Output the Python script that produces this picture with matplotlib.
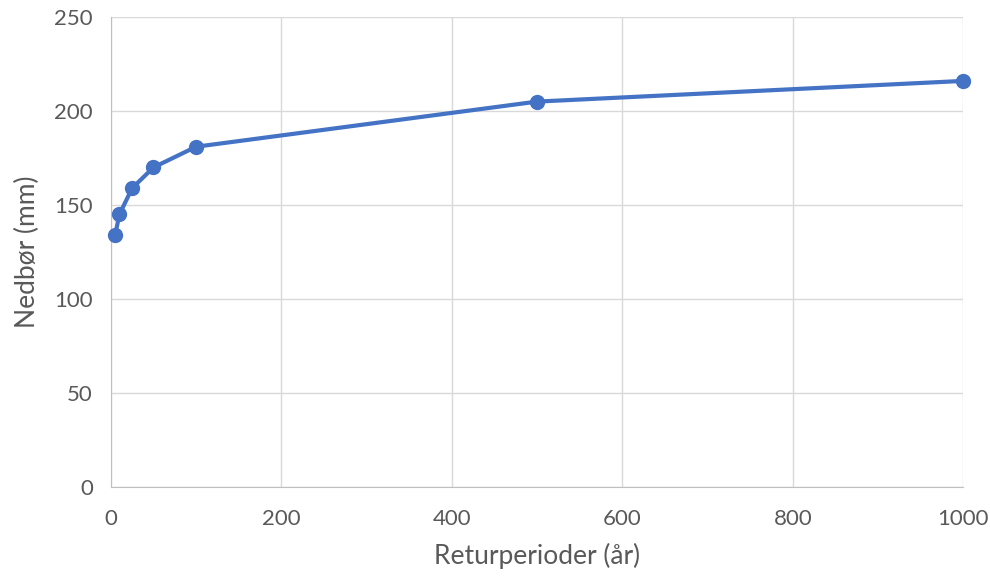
import matplotlib
matplotlib.use('Agg')
import matplotlib.pyplot as plt

returperiode = [5, 10, 25, 50, 100, 500, 1000]
nedbor = [134, 145, 159, 170, 181, 205, 216]
x_ticks = [0, 200, 400, 600, 800, 1000]
y_ticks = [0, 50, 100, 150, 200, 250]

plt.rcParams['font.family'] = ['Lato', 'DejaVu Sans']
grey = '#595959'

fig = plt.figure(figsize=(9.9, 5.76), dpi=100)
ax = fig.add_axes([0.112, 0.1545, 0.861, 0.816])

ax.plot(returperiode, nedbor, color='#4472C4', linewidth=3, marker='o',
        markersize=10, clip_on=False, zorder=3)

ax.set_xlim(0, 1000)
ax.set_ylim(0, 250)
ax.set_xticks(x_ticks)
ax.set_yticks(y_ticks)
ax.grid(True, color='#D9D9D9', linewidth=1)
ax.set_axisbelow(True)
for s in ['top', 'right']:
    ax.spines[s].set_visible(False)
for s in ['left', 'bottom']:
    ax.spines[s].set_color('#BFBFBF')
ax.tick_params(length=0, labelsize=16, labelcolor=grey, pad=13)
ax.tick_params(axis='x', pad=16)
ax.set_xlabel('Returperioder (år)', fontsize=19, color=grey, labelpad=10)
ax.set_ylabel('Nedbør (mm)', fontsize=19, color=grey, labelpad=10)

fig.savefig('out.png', dpi=100)
